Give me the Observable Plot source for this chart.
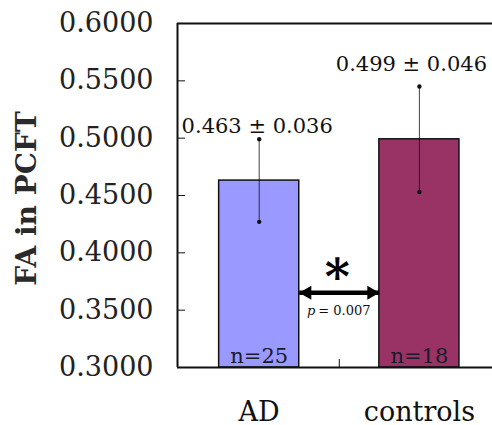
<!DOCTYPE html>
<html>
<head>
<meta charset="utf-8">
<script src="https://cdn.jsdelivr.net/npm/d3@7"></script>
<script src="https://cdn.jsdelivr.net/npm/@observablehq/plot@0.6"></script>
<style>
html, body { margin: 0; padding: 0; background: #fff; overflow: hidden; width: 492px; height: 425px; }
#chart svg { display: block; max-width: none !important; }
</style>
</head>
<body>
<div id="chart"></div>
<script>
const categories = ["AD", "controls"];
const means = [0.463, 0.499];
const sds = [0.036, 0.046];
const ns = [25, 18];
const colors = ["#9999ff", "#993366"];
const yTicks = [0.30, 0.35, 0.40, 0.45, 0.50, 0.55, 0.60];
const pValue = 0.007;

const data = categories.map((c, i) => ({cat: c, i, mean: means[i], sd: sds[i], n: ns[i]}));
const font = "DejaVu Serif";
const sigY = 0.3652;
const xDomain = [-0.51, 1.5];
const yDomain = [0.3, 0.6];

const plot = Plot.plot({
  width: 502,
  height: 425,
  marginLeft: 177,
  marginRight: 3,
  marginTop: 23,
  marginBottom: 58,
  style: {fontFamily: font, background: "white", color: "#111", maxWidth: "none"},
  x: {type: "linear", domain: xDomain, axis: null},
  y: {domain: yDomain, axis: null},
  color: {domain: categories, range: colors},
  marks: [
    Plot.rectY(data, {x1: d => d.i - 0.25, x2: d => d.i + 0.25, y1: yDomain[0], y2: "mean", fill: "cat", stroke: "#111", strokeWidth: 1.5}),
    Plot.ruleX(data, {x: "i", y1: d => d.mean - d.sd, y2: d => d.mean + d.sd, stroke: "#111", strokeWidth: 0.8}),
    Plot.dot(data, {x: "i", y: d => d.mean - d.sd, r: 2.2, fill: "#111", stroke: null}),
    Plot.dot(data, {x: "i", y: d => d.mean + d.sd, r: 2.2, fill: "#111", stroke: null}),
    Plot.ruleY(yDomain, {stroke: "#111", strokeWidth: 2}),
    Plot.ruleX([xDomain[0]], {stroke: "#111", strokeWidth: 2}),
    Plot.axisY({ticks: yTicks, tickSize: -8, tickFormat: () => "", label: null, stroke: "#111"}),
    Plot.axisY({ticks: yTicks, tickSize: 0, tickPadding: 24, tickFormat: d => d.toFixed(4), label: null, fontSize: 27, fill: "#222"}),
    Plot.axisX({ticks: [0.5], tickSize: -8, tickFormat: () => "", label: null, stroke: "#111"}),
    Plot.text(data, {x: "i", text: "cat", frameAnchor: "bottom", dy: 53, fontSize: 27, fill: "#111"}),
    Plot.text(["FA in PCFT"], {frameAnchor: "left", textAnchor: "middle", dx: -150, dy: 3, rotate: -90, fontSize: 28, fontWeight: "bold", fill: "#2a2a2a"}),
    Plot.text(data.filter(d => d.i === 0), {x: "i", y: d => d.mean + d.sd, text: d => `${d.mean.toFixed(3)} ± ${d.sd.toFixed(3)}`, lineAnchor: "bottom", dy: -6, dx: -2, fontSize: 21, fill: "#111"}),
    Plot.text(data.filter(d => d.i === 1), {x: "i", y: d => d.mean + d.sd, text: d => `${d.mean.toFixed(3)} ± ${d.sd.toFixed(3)}`, lineAnchor: "bottom", dy: -16, dx: -8, fontSize: 21, fill: "#111"}),
    Plot.text(data, {x: "i", y: yDomain[0], text: d => `n=${d.n}`, lineAnchor: "bottom", dy: -5, fontSize: 21, fill: "#1a1a2a"}),
    Plot.link([{x1: 0.25, x2: 0.75}], {x1: "x1", x2: "x2", y1: sigY, y2: sigY, stroke: "#000", strokeWidth: 4.5}),
    Plot.dot([0.25], {x: d => d, y: sigY, symbol: "triangle", rotate: -90, r: 5.2, dx: 8, fill: "#000", stroke: null}),
    Plot.dot([0.75], {x: d => d, y: sigY, symbol: "triangle", rotate: 90, r: 5.2, dx: -8, fill: "#000", stroke: null}),
    Plot.text(["*"], {x: 0.5, y: sigY, lineAnchor: "middle", dx: -2, dy: -14, fontSize: 48, fontWeight: "bold", fill: "#000"}),
    Plot.text(["p"], {x: 0.5, y: sigY, textAnchor: "end", dx: -24, dy: 18, fontSize: 13, fontStyle: "italic", fill: "#111"}),
    Plot.text([`= ${pValue.toFixed(3)}`], {x: 0.5, y: sigY, textAnchor: "start", dx: -21, dy: 18, fontSize: 13, fill: "#111"})
  ]
});
document.getElementById("chart").appendChild(plot);
</script>
</body>
</html>
